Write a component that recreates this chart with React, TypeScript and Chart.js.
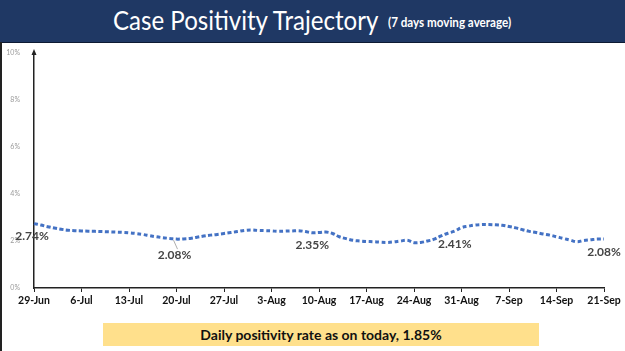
import React, { useEffect, useRef } from 'react';
import { Chart, registerables } from 'chart.js';

Chart.register(...registerables);

const dates = [
  '29-Jun', '30-Jun',
  '1-Jul', '2-Jul', '3-Jul', '4-Jul', '5-Jul', '6-Jul', '7-Jul', '8-Jul', '9-Jul', '10-Jul',
  '11-Jul', '12-Jul', '13-Jul', '14-Jul', '15-Jul', '16-Jul', '17-Jul', '18-Jul', '19-Jul', '20-Jul',
  '21-Jul', '22-Jul', '23-Jul', '24-Jul', '25-Jul', '26-Jul', '27-Jul', '28-Jul', '29-Jul', '30-Jul', '31-Jul',
  '1-Aug', '2-Aug', '3-Aug', '4-Aug', '5-Aug', '6-Aug', '7-Aug', '8-Aug', '9-Aug', '10-Aug',
  '11-Aug', '12-Aug', '13-Aug', '14-Aug', '15-Aug', '16-Aug', '17-Aug', '18-Aug', '19-Aug', '20-Aug',
  '21-Aug', '22-Aug', '23-Aug', '24-Aug', '25-Aug', '26-Aug', '27-Aug', '28-Aug', '29-Aug', '30-Aug', '31-Aug',
  '1-Sep', '2-Sep', '3-Sep', '4-Sep', '5-Sep', '6-Sep', '7-Sep', '8-Sep', '9-Sep', '10-Sep',
  '11-Sep', '12-Sep', '13-Sep', '14-Sep', '15-Sep', '16-Sep', '17-Sep', '18-Sep', '19-Sep', '20-Sep', '21-Sep',
];

const positivity = [
  2.74, 2.68, 2.61, 2.55, 2.50, 2.46, 2.44, 2.43, 2.42, 2.41,
  2.40, 2.39, 2.38, 2.37, 2.35, 2.32, 2.28, 2.23, 2.18, 2.14,
  2.11, 2.08, 2.09, 2.11, 2.16, 2.21, 2.25, 2.28, 2.32, 2.36,
  2.40, 2.45, 2.47, 2.45, 2.44, 2.43, 2.41, 2.42, 2.43, 2.44,
  2.40, 2.35, 2.36, 2.38, 2.32, 2.18, 2.10, 2.03, 2.00, 1.98,
  1.97, 1.95, 1.94, 1.96, 2.00, 2.03, 1.93, 1.94, 2.00, 2.08,
  2.22, 2.33, 2.42, 2.57, 2.63, 2.68, 2.70, 2.70, 2.69, 2.67,
  2.62, 2.56, 2.48, 2.41, 2.36, 2.30, 2.25, 2.18, 2.11, 2.04,
  1.97, 2.02, 2.05, 2.08, 2.09,
];

const labelledIndices = [0, 21, 41, 62, 84];
const labelledTexts = ['2.74%', '2.08%', '2.35%', '2.41%', '2.08%'];

const yTicks = [0, 2, 4, 6, 8, 10];

const titleText = 'Case Positivity Trajectory';
const subtitleText = '(7 days moving average)';
const footnoteText = 'Daily positivity rate as on today, 1.85%';

// style-only offsets for the value labels (dx, dy in px, leader line flag)
const labelStyle = [
  { dx: -2, dy: 13, leader: false },
  { dx: -2, dy: 16, leader: true },
  { dx: 0, dy: 12, leader: false },
  { dx: 0, dy: 13, leader: false },
  { dx: 0, dy: 13, leader: false },
];

const valueLabelPlugin = {
  id: 'valueLabels',
  afterDatasetsDraw(chart: any) {
    const ctx = chart.ctx;
    const meta = chart.getDatasetMeta(0);
    ctx.save();
    ctx.font = 'bold 12px Lato';
    ctx.fillStyle = '#454545';
    ctx.textAlign = 'center';
    ctx.textBaseline = 'middle';
    labelledIndices.forEach((idx, i) => {
      const pt = meta.data[idx];
      if (!pt) return;
      const st = labelStyle[i];
      const x = pt.x + st.dx;
      const y = pt.y + st.dy;
      if (st.leader) {
        ctx.strokeStyle = '#999';
        ctx.lineWidth = 0.8;
        ctx.beginPath();
        ctx.moveTo(pt.x - 3, pt.y + 1);
        ctx.lineTo(pt.x + 1, y - 6);
        ctx.stroke();
      }
      ctx.fillText(labelledTexts[i], x, y);
    });
    // arrow at top of y axis
    const ya = chart.scales.y;
    const top = ya.getPixelForValue(10);
    const ax = chart.chartArea.left;
    ctx.fillStyle = '#222';
    ctx.beginPath();
    ctx.moveTo(ax, top - 4);
    ctx.lineTo(ax - 2.5, top + 2);
    ctx.lineTo(ax + 2.5, top + 2);
    ctx.closePath();
    ctx.fill();
    ctx.restore();
  },
};

function PositivityChart() {
  const ref = useRef<HTMLCanvasElement>(null);
  useEffect(() => {
    if (!ref.current) return;
    const chart = new Chart(ref.current, {
      type: 'line',
      data: {
        labels: dates,
        datasets: [
          {
            data: positivity,
            borderColor: '#4472C4',
            borderWidth: 3,
            borderDash: [4, 2.5],
            pointRadius: 0,
            tension: 0.4,
            fill: false,
          },
        ],
      },
      options: {
        animation: false,
        responsive: false,
        maintainAspectRatio: false,
        layout: { padding: { left: 0, right: 21, top: 11, bottom: 0 } },
        plugins: { legend: { display: false }, tooltip: { enabled: false } },
        scales: {
          x: {
            type: 'category',
            offset: false,
            grid: {
              display: true,
              drawOnChartArea: false,
              drawTicks: true,
              tickLength: 4,
              color: (c: any) => (c.index % 7 === 0 ? '#222' : 'rgba(0,0,0,0)'),
              lineWidth: 1,
            },
            border: { display: true, color: '#222', width: 1.5 },
            ticks: {
              autoSkip: false,
              maxRotation: 0,
              minRotation: 0,
              padding: 2,
              color: '#111',
              font: { family: 'Lato', size: 10.5, weight: 'bold' },
              callback: (_v: any, i: number) => (i % 7 === 0 ? dates[i] : ''),
            },
            afterFit: (s: any) => {
              s.height = 24;
            },
          },
          y: {
            min: 0,
            max: 10,
            afterBuildTicks: (s: any) => {
              s.ticks = yTicks.map((v) => ({ value: v }));
            },
            grid: { display: false },
            border: { display: true, color: '#222', width: 1.5 },
            ticks: {
              padding: 6,
              color: '#9a9a9a',
              font: { family: 'Lato', size: 7 },
              callback: (v: any) => v + '%',
            },
            afterFit: (s: any) => {
              s.width = 34;
            },
          },
        },
      },
      plugins: [valueLabelPlugin],
    });
    return () => chart.destroy();
  }, []);
  return <canvas ref={ref} width={625} height={270} style={{ position: 'absolute', left: 0, top: 42 }} />;
}

export default function App() {
  return (
    <div
      style={{
        position: 'fixed',
        left: 0,
        top: 0,
        width: 625,
        height: 351,
        background: '#fff',
        overflow: 'hidden',
        fontFamily: 'Lato, sans-serif',
      }}
    >
      <div
        style={{
          position: 'absolute',
          left: 0,
          top: 0,
          width: 625,
          height: 42,
          background: '#1F3864',
          borderBottom: '1px solid #0d1a33',
        }}
      >
        <div
          style={{
            position: 'absolute',
            left: 113,
            top: 4,
            color: '#fff',
            whiteSpace: 'nowrap',
            fontSize: 27.5,
            lineHeight: '32px',
            transform: 'scaleX(0.875)',
            transformOrigin: 'left',
          }}
        >
          {titleText}
        </div>
        <div
          style={{
            position: 'absolute',
            left: 388,
            top: 15,
            color: '#fff',
            whiteSpace: 'nowrap',
            fontSize: 12.5,
            fontWeight: 'bold',
            lineHeight: '16px',
            transform: 'scaleX(0.93)',
            transformOrigin: 'left',
          }}
        >
          {subtitleText}
        </div>
      </div>
      <div style={{ position: 'absolute', left: 0, top: 42, width: 2, height: 309, background: '#222' }} />
      <PositivityChart />
      <div
        style={{
          position: 'absolute',
          left: 103,
          top: 323,
          width: 436,
          height: 23,
          background: '#FFE08C',
          color: '#111',
          fontWeight: 'bold',
          fontSize: 14,
          lineHeight: '23px',
          textAlign: 'center',
          whiteSpace: 'nowrap',
        }}
      >
        {footnoteText}
      </div>
    </div>
  );
}
